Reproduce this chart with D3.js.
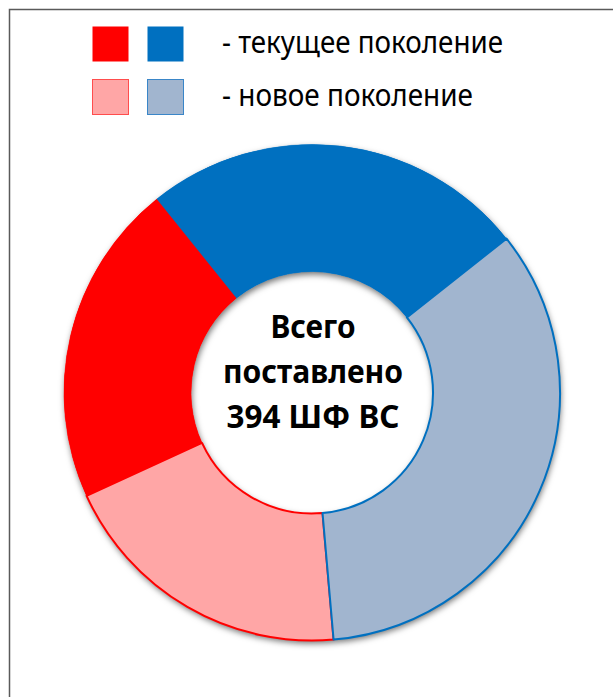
<!DOCTYPE html>
<html><head><meta charset="utf-8">
<script src="https://cdn.jsdelivr.net/npm/d3@7"></script>
<style>html,body{margin:0;padding:0;background:#fff;}svg{display:block;}</style>
</head><body>
<svg id="c" width="613" height="697"></svg>
<script>
// Data
const categories = ["текущее поколение (синие)", "новое поколение (синие)", "новое поколение (красные)", "текущее поколение (красные)"];
const values = [99, 135, 77, 83];
const fills = ["#0070C0", "#A1B5CF", "#FFA6A6", "#FF0000"];
const strokes = ["#0070C0", "#0070C0", "#FF0000", "#FF0000"];
const legendLabels = ["- текущее поколение", "- новое поколение"];
const legendFills = [["#FF0000", "#0070C0"], ["#FFA6A6", "#A1B5CF"]];
const legendStrokes = [["#FF0000", "#0070C0"], ["#FF4D4D", "#3A86C8"]];
const centerLines = ["Всего", "поставлено", "394 ШФ ВС"];

const svg = d3.select("#c");
const defs = svg.append("defs");
const f = defs.append("filter").attr("id","sh").attr("x","-20%").attr("y","-20%").attr("width","140%").attr("height","140%");
f.append("feDropShadow").attr("dx",1).attr("dy",3).attr("stdDeviation",3).attr("flood-color","#000").attr("flood-opacity",0.55);

// frame
svg.append("rect").attr("x",9.5).attr("y",9.5).attr("width",700).attr("height",700)
  .attr("fill","none").attr("stroke","#5a5a5a").attr("stroke-width",1.5);

// legend
const lg = svg.append("g");
legendLabels.forEach((lab,i)=>{
  const y0 = 26 + i*53;
  legendFills[i].forEach((c,j)=>{
    lg.append("rect").attr("x",92.5 + j*55).attr("y",y0+0.5).attr("width",36).attr("height",35)
      .attr("fill",c).attr("stroke",legendStrokes[i][j]).attr("stroke-width", i===0?0:1);
  });
  lg.append("text").attr("x",222).attr("y",y0+27).text(lab)
    .attr("font-family","Noto Sans, sans-serif").attr("font-size",30).attr("fill","#000")
    .attr("textLength", i===0?281:251).attr("lengthAdjust","spacingAndGlyphs");
});

// donut
const cx = 312, cy = 392.5, R = 248, r = 121;
const startOffset = -38.8 * Math.PI/180;
const pie = d3.pie().sort(null).value(d=>d).startAngle(startOffset).endAngle(startOffset + 2*Math.PI);
const arc = d3.arc().innerRadius(r).outerRadius(R);
const arcs = pie(values);
const g = svg.append("g").attr("transform",`translate(${cx},${cy})`);
const shadowG = g.append("g").attr("filter","url(#sh)");
shadowG.selectAll("path").data(arcs).join("path").attr("d",arc).attr("fill",(d,i)=>fills[i]);
// draw order: solid ones first, then lighter with outlines
const order = [0,3,2,1];
order.forEach(i=>{
  g.append("path").attr("d",arc(arcs[i])).attr("fill",fills[i])
   .attr("stroke",strokes[i]).attr("stroke-width",(i===1||i===2)?2:0.5).attr("stroke-linejoin","round");
});

// center text
centerLines.forEach((t,i)=>{
  svg.append("text").attr("x",cx+1).attr("y",338 + i*45).attr("text-anchor","middle")
    .attr("font-family","Noto Sans, sans-serif").attr("font-weight","bold").attr("font-size",32)
    .attr("fill","#000").text(t)
    .attr("textLength",[85,180,173][i]).attr("lengthAdjust","spacingAndGlyphs");
});
</script>
</body></html>
